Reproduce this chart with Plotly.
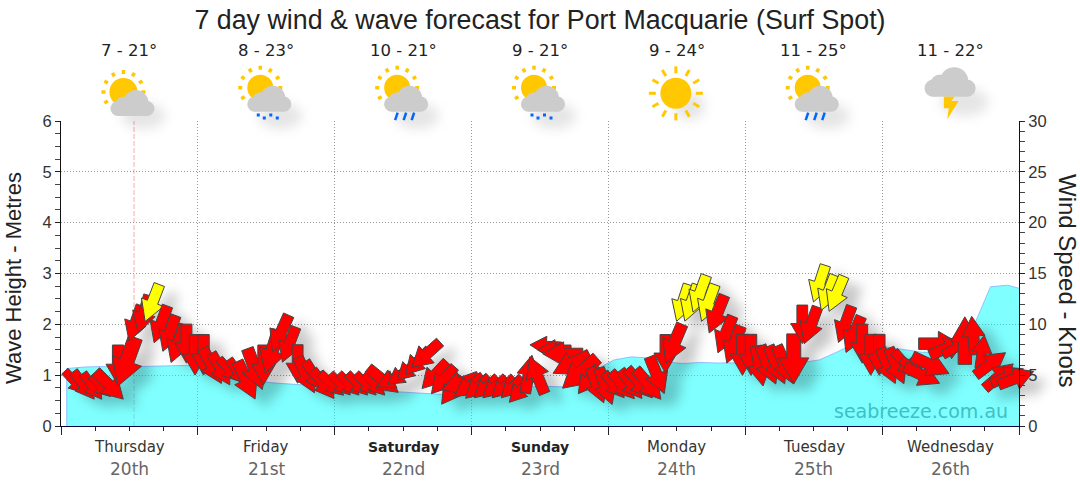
# Importing Modules
import math
import plotly.graph_objects as go

# Forecast Labels
title = "7 day wind & wave forecast for Port Macquarie (Surf Spot)"
day_names = ["Thursday", "Friday", "Saturday", "Sunday", "Monday", "Tuesday", "Wednesday"]
day_dates = ["20th", "21st", "22nd", "23rd", "24th", "25th", "26th"]
weekend_days = ["Saturday", "Sunday"]
temps = ["7 - 21°", "8 - 23°", "10 - 21°", "9 - 21°", "9 - 24°", "11 - 25°", "11 - 22°"]
icons = ["cloudy", "drizzle", "rain", "drizzle", "sun", "rain", "storm"]
now_hour = 12.8

# Wave Height In Metres, One Value Every 3 Hours From Hour 1
wave_height = [
    1.13, 1.16, 1.17, 1.16, 1.17, 1.17, 1.19, 1.20, 1.20, 1.10, 1.00, 0.90, 0.85, 0.83,
    0.80, 0.78, 0.75, 0.72, 0.70, 0.68, 0.66, 0.64, 0.62, 0.62, 0.65, 0.70, 0.74, 0.77,
    0.78, 0.77, 0.90, 1.12, 1.30, 1.36, 1.34, 1.26, 1.23, 1.25, 1.24, 1.24, 1.25, 1.25,
    1.24, 1.25, 1.30, 1.45, 1.62, 1.60, 1.55, 1.50, 1.45, 1.45, 1.60, 1.95, 2.74, 2.77, 2.68,
]

# Wind In Knots And Heading In Degrees, One Arrow Every 1.5 Hours From Hour 2.5
wind_speed = [
    4.3, 4.0, 3.9, 3.9, 4.0, 6.0, 6.3, 10.1, 11.0, 12.1, 10.0, 9.1, 8.1, 8.1, 7.0, 7.0,
    5.9, 5.6, 5.5, 5.3, 4.5, 5.6, 6.0, 7.3, 9.1, 8.0, 6.1, 5.0, 4.9, 4.1, 4.1,
    4.1, 4.1, 4.1, 4.1, 4.1, 4.5, 4.6, 5.0, 5.6, 6.3, 7.0, 5.0, 4.5, 3.5, 4.2, 3.9,
    3.8, 3.8, 3.8, 3.8, 3.8, 3.5, 5.1, 5.0, 7.9, 7.5, 7.1, 6.1, 5.2, 4.5, 4.0, 3.9,
    4.0, 4.0, 4.1, 4.2, 4.1, 5.0, 7.1, 8.1, 12.1, 12.1, 13.0, 12.1, 11.0, 9.0, 8.0, 7.0,
    7.0, 5.9, 6.0, 6.0, 6.0, 6.6, 10.0, 9.9, 14.0, 13.1, 13.0, 10.0, 9.0, 8.1, 7.0, 7.0,
    5.9, 5.9, 6.1, 5.7, 5.0, 6.0, 8.1, 7.7, 7.7, 8.4, 8.9, 7.3, 6.1, 4.9, 4.9, 4.7,
]
wind_gust = [
    6.1, 6.9, 6.4, 5.7, 7.8, 8.0, 10.3, 7.5, 7.8, 7.9, 7.8, 7.6, 8.0, 7.8, 8.1, 8.1,
    7.9, 7.3, 6.0, 6.2, 8.3, 8.7, 8.0, 9.0, 8.0, 7.5, 7.7, 7.8, 7.0, 7.1, 6.4,
    5.8, 5.9, 5.9, 5.9, 5.9, 7.7, 6.7, 6.2, 6.4, 6.9, 7.6, 7.3, 7.1, 6.8, 7.8, 7.0,
    6.4, 6.2, 6.2, 6.0, 5.8, 6.4, 7.7, 7.9, 6.3, 6.7, 8.0, 8.2, 9.2, 6.7, 7.5, 7.7,
    6.4, 7.1, 7.1, 7.7, 7.8, 7.9, 7.7, 8.4, 7.7, 7.7, 7.8, 7.8, 8.1, 7.9, 7.9, 8.2,
    8.2, 8.1, 8.2, 8.2, 8.3, 10.0, 7.7, 7.8, 7.7, 7.5, 7.6, 7.7, 7.8, 7.8, 8.2, 8.2,
    7.6, 7.7, 6.6, 6.0, 7.7, 8.1, 8.2, 7.7, 6.1, 9.5, 7.7, 6.7, 7.5, 7.5, 7.0, 7.5,
]
wind_heading = [
    137, 143, 144, 136, 135, 180, 200, 199, 196, 201, 200, 200, 200, 180, 180, 180,
    152, 150, 138, 145, 155, 160, 180, 197, 204, 201, 180, 155, 148, 143, 133,
    137, 137, 137, 137, 137, 129, 243, 234, 227, 223, 228, 223, 221, 216, 250, 235,
    227, 228, 228, 226, 224, 222, 10, 338, 273, 270, 270, 243, 229, 217, 159, 160,
    141, 139, 143, 139, 140, 158, 180, 203, 198, 199, 200, 200, 202, 202, 201, 180,
    180, 170, 158, 157, 156, 180, 180, 200, 198, 201, 203, 200, 203, 180, 180, 180,
    157, 157, 139, 124, 115, 115, 90, 67, 61, 0, 355, 8, 53, 49, 65, 69,
]

# Plot Area In Page Pixels
page_w, page_h = 1080, 490
left, right, top, bottom = 61, 1019, 121, 426
px_per_hour = (right - left) / 168
px_per_knot = (bottom - top) / 30


def paper_x(px):
    return (px - left) / (right - left)


def paper_y(py):
    return (bottom - py) / (bottom - top)


# Building One Arrow In Axis Units From Its Wind Values
def arrow_points(hour, speed, gust, heading, shift_x=0, shift_y=0):
    length = gust * 5
    outline = [(-0.5, 0.14), (-0.02, 0.14), (-0.02, 0.3), (0.5, 0), (-0.02, -0.3), (-0.02, -0.14), (-0.5, -0.14)]
    rad = math.radians(heading)
    xs, ys = [], []
    for u, v in outline:
        dx = (u * math.sin(rad) + v * math.cos(rad)) * length + shift_x
        dy = (-u * math.cos(rad) + v * math.sin(rad)) * length + shift_y
        xs.append(hour + dx / px_per_hour)
        ys.append(speed - dy / px_per_knot)
    xs.append(xs[0])
    ys.append(ys[0])
    return xs, ys


fig = go.Figure()

# Wave Height Area
wave_hours = [1 + 3 * k for k in range(len(wave_height))]
fig.add_trace(go.Scatter(
    x=[wave_hours[0]] + wave_hours, y=[0] + wave_height, mode="lines", fill="tozeroy",
    fillcolor="rgba(0,255,255,0.5)", line=dict(color="rgba(120,170,255,0.7)", width=1),
    hoverinfo="skip", showlegend=False,
))

wind_hours = [2.5 + 1.5 * k for k in range(len(wind_speed))]

# Shadow Under The Arrows, Blurred After Drawing
shadow_x, shadow_y = [], []
for h, s, g, d in zip(wind_hours, wind_speed, wind_gust, wind_heading):
    xs, ys = arrow_points(h, s, g, d, 14, 9)
    shadow_x += xs + [None]
    shadow_y += ys + [None]
fig.add_trace(go.Scatter(
    x=shadow_x, y=shadow_y, yaxis="y2", mode="none", fill="toself",
    fillcolor="rgba(0,0,0,0.22)", hoverinfo="skip", showlegend=False,
))

# Wind Arrows, Yellow From 12 Knots
for h, s, g, d in zip(wind_hours, wind_speed, wind_gust, wind_heading):
    xs, ys = arrow_points(h, s, g, d)
    fig.add_trace(go.Scatter(
        x=xs, y=ys, yaxis="y2", mode="lines", fill="toself", cliponaxis=False,
        fillcolor="#ffff00" if s >= 12 else "#ff0000",
        line=dict(color="#444444", width=1), hoverinfo="skip", showlegend=False,
    ))

shapes = [dict(
    type="line", xref="x", yref="paper", x0=now_hour, x1=now_hour, y0=0, y1=1,
    line=dict(color="#ffaaaa", width=1, dash="5px,2px"), layer="below",
)]


# Weather Icon Helpers
def circle(cx, cy, r, color):
    shapes.append(dict(
        type="circle", xref="paper", yref="paper", x0=paper_x(cx - r), x1=paper_x(cx + r),
        y0=paper_y(cy + r), y1=paper_y(cy - r), fillcolor=color, line=dict(width=0),
    ))


def polygon(points, color):
    path = "M " + " L ".join(f"{paper_x(x):.5f},{paper_y(y):.5f}" for x, y in points) + " Z"
    shapes.append(dict(type="path", xref="paper", yref="paper", path=path, fillcolor=color, line=dict(width=0)))


def stroke(x0, y0, x1, y1, color, width):
    shapes.append(dict(
        type="line", xref="paper", yref="paper", x0=paper_x(x0), x1=paper_x(x1),
        y0=paper_y(y0), y1=paper_y(y1), line=dict(color=color, width=width),
    ))


def sun(cx, cy, r, inner, outer, ray_w):
    for k in range(12):
        a = math.radians(30 * k)
        stroke(cx + inner * math.sin(a), cy - inner * math.cos(a),
               cx + outer * math.sin(a), cy - outer * math.cos(a), "#ffc800", ray_w)
    circle(cx, cy, r, "#ffc800")


def cloud(x0, x1, base, rise):
    w = x1 - x0
    r = rise * 0.29
    polygon([(x0 + r, base), (x1 - r, base), (x1 - r, base - 2 * r), (x0 + r, base - 2 * r)], "#cccccc")
    circle(x0 + r, base - r, r, "#cccccc")
    circle(x1 - r, base - r, r, "#cccccc")
    circle(x0 + w * 0.30, base - rise * 0.42, rise * 0.33, "#cccccc")
    circle(x0 + w * 0.58, base - rise * 0.52, rise * 0.48, "#cccccc")


def icon_shadow(cx, cy, rx, ry):
    shapes.append(dict(
        type="circle", xref="paper", yref="paper", x0=paper_x(cx - rx), x1=paper_x(cx + rx),
        y0=paper_y(cy + ry), y1=paper_y(cy - ry), fillcolor="rgba(0,0,0,0.1)", line=dict(width=0),
    ))


# Drawing The Icon For Each Day
for i, icon in enumerate(icons):
    mid = left + (i + 0.5) * (right - left) / 7
    if icon == "sun":
        icon_shadow(mid + 12, 106, 16, 14)
        sun(mid - 1, 93.3, 15.5, 20, 27, 3)
    elif icon == "storm":
        icon_shadow(mid + 14, 102, 24, 14)
        cloud(mid - 26, mid + 25, 96.7, 29.5)
        bolt = [(-5.7, 96.7), (5, 96.7), (1.7, 101), (9, 101), (-2.3, 119.3), (-0.7, 108.3), (-5.7, 108.3)]
        polygon([(mid - 1 + x, y) for x, y in bolt], "#ffc800")
    else:
        icon_shadow(mid + 14, 116, 22, 13)
        sy = 92 if icon == "cloudy" else 87.7
        sun(mid - 6, sy, 14 if icon == "cloudy" else 13, 18, 22, 3.5)
        base = 116 if icon == "cloudy" else 111.7
        cloud(mid - 19, mid + 25, base, 26)
        if icon == "rain":
            for off in (-7.5, 1, 9):
                stroke(mid + off + 2, base + 1, mid + off - 0.5, base + 8.5, "#0066ff", 2.5)
        if icon == "drizzle":
            for off, dy in [(-8, 3.3), (-2, 6.3), (4.5, 3.3), (11, 6.3)]:
                polygon([(mid + off + a, base + dy + b) for a, b in [(-1.5, -1.5), (1.5, -1.5), (1.5, 1.5), (-1.5, 1.5)]], "#0066ff")

# Text Labels
main_font = "Liberation Sans"
day_font = "DejaVu Sans"
annotations = []
for i in range(7):
    mid = (i + 0.5) * 24
    bold = day_names[i] in weekend_days
    annotations.append(dict(
        x=mid, xref="x", y=paper_y(447), yref="paper", showarrow=False, yanchor="middle",
        text=f"<b>{day_names[i]}</b>" if bold else day_names[i],
        font=dict(family=day_font, size=15 if not bold else 14, color="#222222" if bold else "#333333"),
    ))
    annotations.append(dict(
        x=mid, xref="x", y=paper_y(469), yref="paper", showarrow=False, yanchor="middle",
        text=day_dates[i], font=dict(family=day_font, size=17, color="#666666"),
    ))
    annotations.append(dict(
        x=mid, xref="x", y=paper_y(50), yref="paper", showarrow=False, yanchor="middle",
        text=temps[i], font=dict(family=day_font, size=16.5, color="#222222"),
    ))

annotations.append(dict(
    x=paper_x(13), xref="paper", y=paper_y(278), yref="paper", showarrow=False, textangle=-90,
    xanchor="center", yanchor="middle",
    text="Wave Height - Metres", font=dict(family=main_font, size=22, color="#222222"),
))
annotations.append(dict(
    x=paper_x(1068), xref="paper", y=paper_y(280), yref="paper", showarrow=False, textangle=90,
    xanchor="center", yanchor="middle",
    text="Wind Speed - Knots", font=dict(family=main_font, size=24, color="#222222"),
))
annotations.append(dict(
    x=paper_x(1010), xref="paper", y=paper_y(411), yref="paper", showarrow=False, xanchor="right",
    yanchor="middle", text="seabreeze.com.au", font=dict(family=day_font, size=19, color="#3fc0c4"),
))

tick_font = dict(family=main_font, size=16.5, color="#333333")
fig.update_layout(
    width=page_w, height=page_h, margin=dict(l=left, r=page_w - right, t=top, b=page_h - bottom),
    plot_bgcolor="white", paper_bgcolor="white", showlegend=False,
    title=dict(text=title, x=0.5, xanchor="center", y=1 - 20 / page_h, yanchor="middle",
               font=dict(family=main_font, size=26.8, color="#222222")),
    xaxis=dict(
        range=[0, 168], tick0=0, dtick=24, ticks="outside", ticklen=8, tickcolor="#222222",
        showticklabels=False, showgrid=True, gridcolor="#999999", griddash="1px,2px",
        zeroline=False, showline=True, linecolor="#000044",
        minor=dict(dtick=6, ticks="outside", ticklen=4, tickcolor="#222222", showgrid=False),
    ),
    yaxis=dict(
        range=[0, 6], dtick=1, ticks="outside", ticklen=5, tickcolor="#222222", tickfont=tick_font,
        showgrid=True, gridcolor="#999999", griddash="1px,2px", zeroline=False,
        showline=True, linecolor="#111111",
        minor=dict(dtick=0.25, ticks="outside", ticklen=5, tickcolor="#444444", showgrid=False),
    ),
    yaxis2=dict(
        range=[0, 30], dtick=5, overlaying="y", side="right", ticks="outside", ticklen=5,
        tickcolor="#222222", tickfont=tick_font, showgrid=False, zeroline=False,
        showline=True, linecolor="#111111",
        minor=dict(dtick=1, ticks="outside", ticklen=5, tickcolor="#444444", showgrid=False),
    ),
    shapes=shapes, annotations=annotations,
)

# The Page Has No Margin, The Shadows Are Soft And The Arrows May Leave The Plot
post_script = """
document.body.style.margin = '0';
document.querySelectorAll('path').forEach(function (p) {
    var s = p.style;
    var alpha = parseFloat(s.fillOpacity);
    if (s.fill === 'rgb(0, 0, 0)' && alpha > 0 && alpha < 0.5) { s.filter = 'blur(6px)'; }
    if (p.classList.contains('js-fill') && (s.fill === 'rgb(255, 0, 0)' || s.fill === 'rgb(255, 255, 0)')) {
        for (var n = p; n && n.tagName !== 'svg'; n = n.parentNode) { n.removeAttribute('clip-path'); }
    }
});
"""
fig.write_html("out.html", post_script=post_script, config={"displayModeBar": False})
